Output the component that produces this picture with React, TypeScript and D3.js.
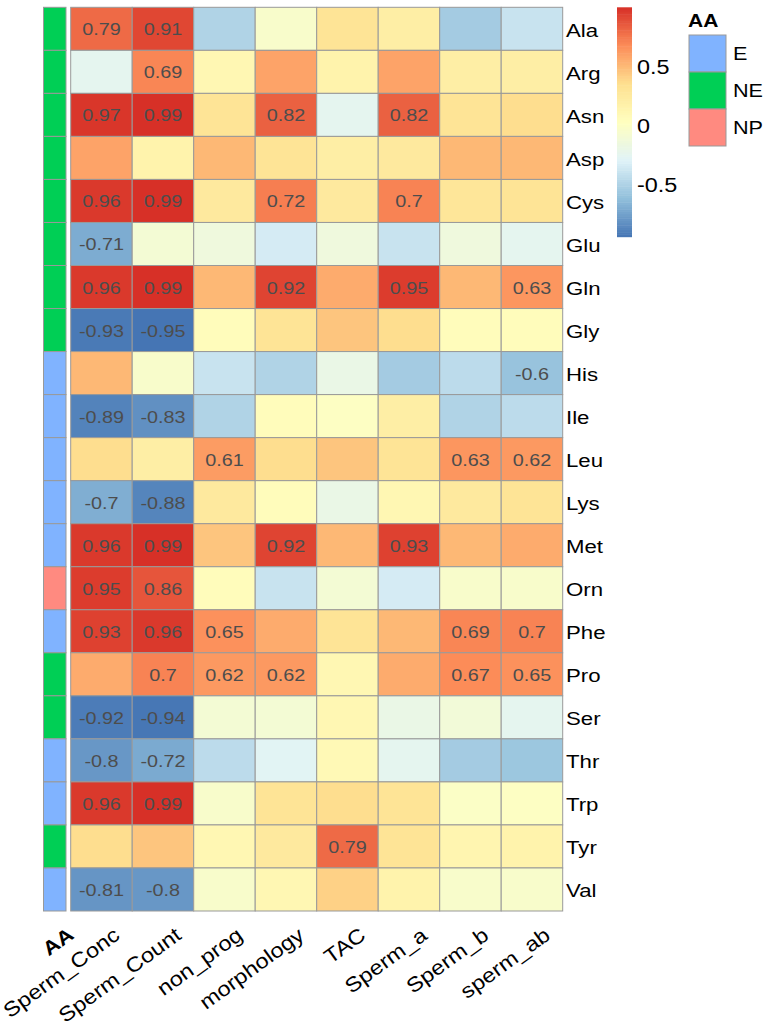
import React from "react";
import * as d3 from "d3";

const rowNames = ["Ala","Arg","Asn","Asp","Cys","Glu","Gln","Gly","His","Ile","Leu","Lys","Met","Orn","Phe","Pro","Ser","Thr","Trp","Tyr","Val"];
const colNames = ["Sperm_Conc","Sperm_Count","non_prog","morphology","TAC","Sperm_a","Sperm_b","sperm_ab"];
const aaGroup = ["NE","NE","NE","NE","NE","NE","NE","NE","E","E","E","E","E","NP","E","NE","NE","E","E","NE","E"];
const aaLevels = ["E","NE","NP"];
const aaColors = ["#80B3FF","#00CF55","#FF8A80"];

const spermConc = [0.79,-0.25,0.97,0.58,0.96,-0.71,0.96,-0.93,0.5,-0.89,0.35,-0.7,0.96,0.95,0.93,0.55,-0.92,-0.8,0.96,0.35,-0.81];
const spermCount = [0.91,0.69,0.99,0.15,0.99,-0.1,0.99,-0.95,-0.05,-0.83,0.2,-0.88,0.99,0.86,0.96,0.7,-0.94,-0.72,0.99,0.45,-0.8];
const nonProg = [-0.5,0.1,0.3,0.5,0.25,-0.15,0.5,0.05,-0.4,-0.5,0.61,0.25,0.45,0.05,0.65,0.62,-0.1,-0.45,-0.05,0.1,-0.05];
const morphology = [-0.05,0.58,0.82,0.3,0.72,-0.35,0.92,0.3,-0.5,0.05,0.35,0.05,0.92,-0.4,0.55,0.62,-0.1,-0.28,0.3,0.25,0.1];
const tac = [0.3,0.15,-0.25,0.2,0.25,-0.15,0.55,0.45,-0.2,0.0,0.45,-0.2,0.5,-0.1,0.3,0.1,0.1,0.08,0.35,0.79,0.4];
const spermA = [0.2,0.58,0.82,0.25,0.7,-0.4,0.95,0.35,-0.55,0.2,0.3,0.1,0.93,-0.35,0.5,0.55,-0.2,-0.25,0.3,0.3,0.15];
const spermB = [-0.55,0.2,0.3,0.5,0.28,-0.15,0.5,0.05,-0.45,-0.5,0.63,0.25,0.5,-0.05,0.69,0.67,-0.12,-0.55,-0.02,0.12,-0.05];
const spermAb = [-0.4,0.2,0.35,0.5,0.3,-0.25,0.63,0.05,-0.6,-0.45,0.62,0.3,0.55,-0.05,0.7,0.65,-0.25,-0.58,0.0,0.15,-0.05];

const columns = [spermConc, spermCount, nonProg, morphology, tac, spermA, spermB, spermAb];
const legendTicks = [-0.5, 0, 0.5];
const palette = ["#4575B4","#91BFDB","#E0F3F8","#FFFFBF","#FEE090","#FC8D59","#D73027"];

const FONT = "Arial, 'Liberation Sans', sans-serif";
const SX = 1.2;

type TProps = {
  x: number;
  y: number;
  size: number;
  anchor?: "start" | "middle" | "end";
  dy?: string;
  rotate?: number;
  sx?: number;
  bold?: boolean;
  fill?: string;
  children: React.ReactNode;
};

function T({ x, y, size, anchor = "start", dy = "0", rotate = 0, sx = SX, bold = false, fill = "#000", children }: TProps) {
  return (
    <g transform={`translate(${x},${y})${rotate ? ` rotate(${rotate})` : ""} scale(${sx},1)`}>
      <text x={0} y={0} dy={dy} textAnchor={anchor} fontSize={size} fontWeight={bold ? "bold" : "normal"} fill={fill} fontFamily={FONT}>
        {children}
      </text>
    </g>
  );
}

export default function App() {
  const all = columns.flat();
  const vmin = d3.min(all) as number;
  const vmax = d3.max(all) as number;
  const color = d3
    .scaleLinear<string>()
    .domain(d3.range(palette.length).map((i) => vmin + (i * (vmax - vmin)) / (palette.length - 1)))
    .range(palette)
    .interpolate(d3.interpolateRgb);

  const x = d3.scaleBand<string>().domain(colNames).range([70.7, 562.7]);
  const y = d3.scaleBand<string>().domain(rowNames).range([7.3, 911]);
  const annX = 43.5, annW = 22.5;
  const aaColor = d3.scaleOrdinal<string, string>().domain(aaLevels).range(aaColors);

  const legTop = 7.3, legBot = 236.7;
  const legY = d3.scaleLinear().domain([vmin, vmax]).range([legBot, legTop]);
  const legX = 617, legW = 15;
  const steps = d3.range(100).map((i) => vmin + ((i + 0.5) * (vmax - vmin)) / 100);
  const stepH = (legBot - legTop) / 100;

  const fmt = (v: number) => String(Math.round(v * 100) / 100);

  return (
    <svg width={774} height={1034} style={{ position: "absolute", left: 0, top: 0, background: "#fff" }}>
      <rect width={774} height={1034} fill="#fff" />
      {rowNames.map((r, i) => (
        <rect key={"a" + r} x={annX} y={y(r)} width={annW} height={y.bandwidth()} fill={aaColor(aaGroup[i])} stroke="#999999" strokeWidth={1} />
      ))}
      {colNames.map((c, j) =>
        rowNames.map((r, i) => (
          <rect key={c + r} x={x(c)} y={y(r)} width={x.bandwidth()} height={y.bandwidth()} fill={color(columns[j][i])} stroke="#999999" strokeWidth={1} />
        ))
      )}
      {colNames.map((c, j) =>
        rowNames.map((r, i) => {
          const v = columns[j][i];
          if (Math.abs(v) < 0.6) return null;
          return (
            <T key={"t" + c + r} x={(x(c) as number) + x.bandwidth() / 2} y={(y(r) as number) + y.bandwidth() / 2 + 6.5} anchor="middle" size={16.5} fill="#4D4D4D">
              {fmt(v)}
            </T>
          );
        })
      )}
      {rowNames.map((r) => (
        <T key={"rl" + r} x={566} y={(y(r) as number) + y.bandwidth() / 2 + 8} size={18.5}>
          {r}
        </T>
      ))}
      <T x={annX + annW / 2 + 12} y={926} anchor="end" dy="0.72em" rotate={-36} sx={1.15} size={19.5} bold>
        AA
      </T>
      {colNames.map((c) => (
        <T key={"cl" + c} x={(x(c) as number) + x.bandwidth() / 2 + 11} y={926} anchor="end" dy="0.72em" rotate={-36} sx={1.15} size={20.5}>
          {c}
        </T>
      ))}
      {steps.map((v, i) => (
        <rect key={"lg" + i} x={legX} y={legBot - (i + 1) * stepH} width={legW} height={stepH + 0.5} fill={color(v)} />
      ))}
      {legendTicks.map((t) => (
        <T key={"lt" + t} x={637} y={legY(t) + 2 + 7} size={19.5}>
          {t}
        </T>
      ))}
      <T x={688} y={26.7} size={17.5} bold>
        AA
      </T>
      {aaLevels.map((l, i) => (
        <g key={"al" + l}>
          <rect x={689} y={35 + i * 37} width={37} height={37} fill={aaColor(l)} stroke="#999999" strokeWidth={1} />
          <T x={733} y={35 + i * 37 + 18.5 + 6.5} size={18}>
            {l}
          </T>
        </g>
      ))}
    </svg>
  );
}
